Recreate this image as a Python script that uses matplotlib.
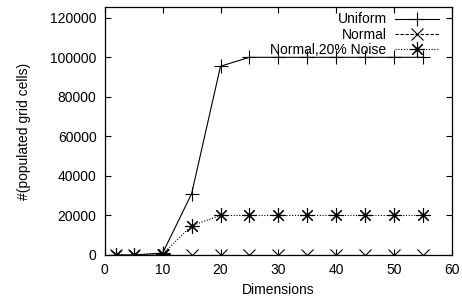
import matplotlib
matplotlib.use("Agg")
import matplotlib.pyplot as plt

# Data
dims = [2, 5, 10, 15, 20, 25, 30, 35, 40, 45, 50, 55]
uniform = [0, 0, 1000, 31000, 95500, 100000, 100000, 100000, 100000, 100000, 100000, 100000]
normal = [0, 0, 0, 0, 0, 0, 0, 0, 0, 0, 0, 0]
noise = [0, 0, 500, 14800, 20000, 20000, 20000, 20000, 20000, 20000, 20000, 20000]

labels = ["Uniform", "Normal", "Normal,20% Noise"]

plt.rcParams.update({"font.family": "Liberation Sans", "font.size": 10})

fig = plt.figure(figsize=(4.62, 3.0), dpi=100)
ax = fig.add_axes([0.227, 0.15, 0.751, 0.827])

lw = 0.8
ax.plot(dims, uniform, color="black", linewidth=lw, linestyle="-",
        marker="+", markersize=9.5, markeredgewidth=lw, label=labels[0])
ax.plot(dims, normal, color="black", linewidth=lw, linestyle=(0, (3, 1.5)),
        marker="x", markersize=8.5, markeredgewidth=lw, label=labels[1])
ax.plot(dims, noise, color="black", linewidth=lw, linestyle=(0, (1, 1.5)),
        marker=(8, 2, 0), markersize=10.5, markeredgewidth=lw, label=labels[2])

ax.set_xlim(0, 60)
ax.set_ylim(0, 125500)
ax.set_xticks(range(0, 61, 10))
ax.set_yticks(range(0, 120001, 20000))
ax.tick_params(direction="in", top=True, right=True, length=4, width=0.8,
               pad=6, colors="black")
for s in ax.spines.values():
    s.set_linewidth(0.9)

ax.set_xlabel("Dimensions", labelpad=4)
ax.set_ylabel("#(populated grid cells)", labelpad=14)

ax.legend(loc="upper right", frameon=False, markerfirst=False,
          handlelength=3.2, handletextpad=0.6, labelspacing=0.1,
          borderaxespad=0.25, borderpad=0.15, bbox_to_anchor=(0.98, 1.0))

fig.savefig("out.png", dpi=100)
